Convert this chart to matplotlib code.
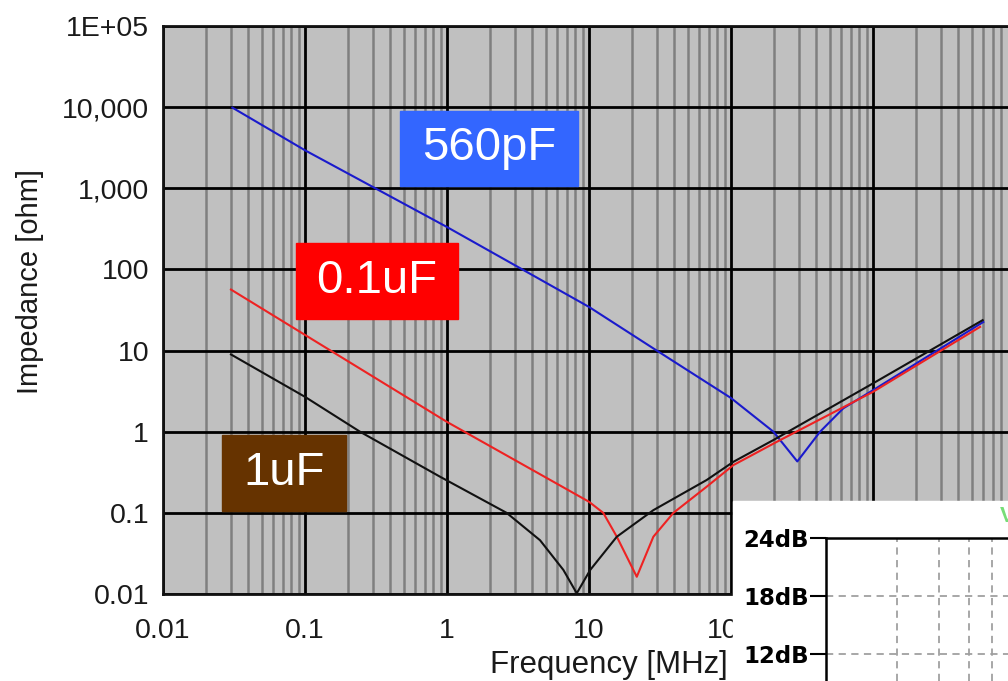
import numpy as np
import matplotlib
matplotlib.use("Agg")
import matplotlib.pyplot as plt
from matplotlib.patches import Rectangle
from matplotlib.ticker import FixedLocator, FixedFormatter, NullFormatter

plt.rcParams['font.family'] = ['Liberation Sans', 'DejaVu Sans']

# impedance curves: frequency [MHz], impedance [ohm]
f_560p = [0.0308, 0.1, 1.0, 10.0, 30.0, 100.0, 199.0, 293.0, 424.0, 617.0, 1000.0, 5980.0]
z_560p = [9860.0, 2940.0, 333.0, 34.5, 10.0, 2.6, 1.0, 0.43, 1.0, 1.94, 3.25, 22.5]

f_100n = [0.0301, 1.0, 10.0, 12.6, 15.7, 21.7, 28.4, 39.3, 67.4, 104.0, 210.0, 1000.0, 5680.0]
z_100n = [56.5, 1.32, 0.137, 0.1, 0.0508, 0.0163, 0.0508, 0.1, 0.21, 0.388, 0.75, 3.1, 19.6]

f_1u = [0.0301, 0.1, 0.244, 0.893, 2.63, 4.52, 6.6, 8.2, 10.2, 15.7, 28.4, 67.4, 104.0, 199.0, 1000.0, 5920.0]
z_1u = [8.96, 2.69, 1.0, 0.279, 0.1, 0.046, 0.0198, 0.0102, 0.0198, 0.0508, 0.108, 0.254, 0.426, 0.79, 3.94, 23.7]

x_ticks = [0.01, 0.1, 1, 10, 100, 1000, 10000]
x_labels = ["0.01", "0.1", "1", "10", "100", "1000", "10000"]
y_ticks = [0.01, 0.1, 1, 10, 100, 1000, 10000, 100000]
y_labels = ["0.01", "0.1", "1", "10", "100", "1,000", "10,000", "1E+05"]

# inset (gain plot, mostly hidden)
db_ticks = [12, 18, 24]
db_labels = ["12dB", "18dB", "24dB"]

W, H = 1008, 681
fig = plt.figure(figsize=(W / 100, H / 100), dpi=100)

# main axes: x 0.01 at px 163, 1e4 at px 1015; y 1e5 at px 26, 0.01 at px 594
ax = fig.add_axes([163 / W, (H - 594) / H, (1015 - 163) / W, (594 - 26) / H])
ax.set_facecolor('#c0c0c0')
ax.set_xscale('log')
ax.set_yscale('log')
ax.set_xlim(0.01, 10000)
ax.set_ylim(0.01, 100000)

ax.plot(f_560p, z_560p, color='#1a1acc', lw=1.5, zorder=3)
ax.plot(f_100n, z_100n, color='#ee2222', lw=1.5, zorder=3)
ax.plot(f_1u, z_1u, color='#111111', lw=1.5, zorder=3)

ax.xaxis.set_major_locator(FixedLocator(x_ticks))
ax.xaxis.set_major_formatter(FixedFormatter(x_labels))
ax.xaxis.set_minor_formatter(NullFormatter())
ax.yaxis.set_major_locator(FixedLocator(y_ticks))
ax.yaxis.set_major_formatter(FixedFormatter(y_labels))
ax.yaxis.set_minor_locator(FixedLocator([]))
ax.yaxis.set_minor_formatter(NullFormatter())

ax.grid(which='major', color='black', lw=2.0)
ax.grid(which='minor', axis='x', color='#7f7f7f', lw=1.8)
ax.set_axisbelow(True)
for s in ax.spines.values():
    s.set_linewidth(2.0)
    s.set_color('#111111')

ax.tick_params(which='both', length=0)
ax.tick_params(axis='y', labelsize=20.5, pad=10, colors='#1a1a1a')
ax.tick_params(axis='x', labelsize=20.5, pad=17, colors='#1a1a1a')

ax.set_xlabel("Frequency [MHz]", fontsize=22.5, color='#1a1a1a')
ax.xaxis.set_label_coords((609 - 163) / 852, -(650 - 594) / 568)
ax.xaxis.label.set_va('top')
ax.set_ylabel("Impedance [ohm]", fontsize=21, color='#1a1a1a')
ax.yaxis.set_label_coords((30 - 163) / 852, (594 - 282) / 568)
ax.yaxis.label.set_va('center')

# coloured name boxes
def name_box(x0, y0, x1, y1, text, color):
    fig.patches.append(Rectangle((x0 / W, 1 - y1 / H), (x1 - x0) / W, (y1 - y0) / H,
                                 transform=fig.transFigure, color=color, zorder=4))
    fig.text((x0 + x1) / 2 / W, 1 - (y0 + y1) / 2 / H, text, color='white',
             fontsize=34, ha='center', va='center', zorder=5)

name_box(400, 111, 578, 186, "560pF", '#3366ff')
name_box(296, 243, 458, 319, "0.1uF", '#ff0000')
name_box(222, 435, 346, 511, "1uF", '#663300')

# white inset panel in the lower right corner
fig.patches.append(Rectangle((733 / W, 0), (W - 733) / W, (H - 501) / H,
                             transform=fig.transFigure, color='white', zorder=6))

ax2 = fig.add_axes([826 / W, 0, (W - 826) / W, (H - 537.7) / H])
ax2.set_zorder(7)
ax2.patch.set_alpha(0)
ax2.set_xscale('log')
ax2.set_xlim(1, 10 ** ((W - 826) / 237))
ax2.set_ylim(12 - (H - 654) / 57.5 * 6, 24)
ax2.yaxis.set_major_locator(FixedLocator(db_ticks))
ax2.yaxis.set_major_formatter(FixedFormatter(db_labels))
ax2.xaxis.set_major_locator(FixedLocator([]))
ax2.xaxis.set_minor_locator(FixedLocator([2, 3, 4, 5]))
ax2.xaxis.set_minor_formatter(NullFormatter())
ax2.tick_params(axis='x', which='both', length=0)
ax2.tick_params(axis='y', length=11.5, width=1.5, pad=1, labelsize=16.5)
for lab in ax2.get_yticklabels():
    lab.set_fontfamily('DejaVu Sans')
    lab.set_fontweight('bold')
ax2.grid(which='major', axis='y', color='#a0a0a0', lw=1.3, ls=(0, (4, 3)))
ax2.grid(which='minor', axis='x', color='#a0a0a0', lw=1.3, ls=(0, (4, 3)))
ax2.spines['right'].set_visible(False)
ax2.spines['bottom'].set_visible(False)
ax2.spines['left'].set_linewidth(1.8)
ax2.spines['top'].set_linewidth(1.8)
fig.text(1000 / W, 1 - 517 / H, "V", color='#77dd77', fontsize=16,
         fontweight='bold', ha='left', va='center', zorder=8)

fig.savefig("out.png", dpi=100)
